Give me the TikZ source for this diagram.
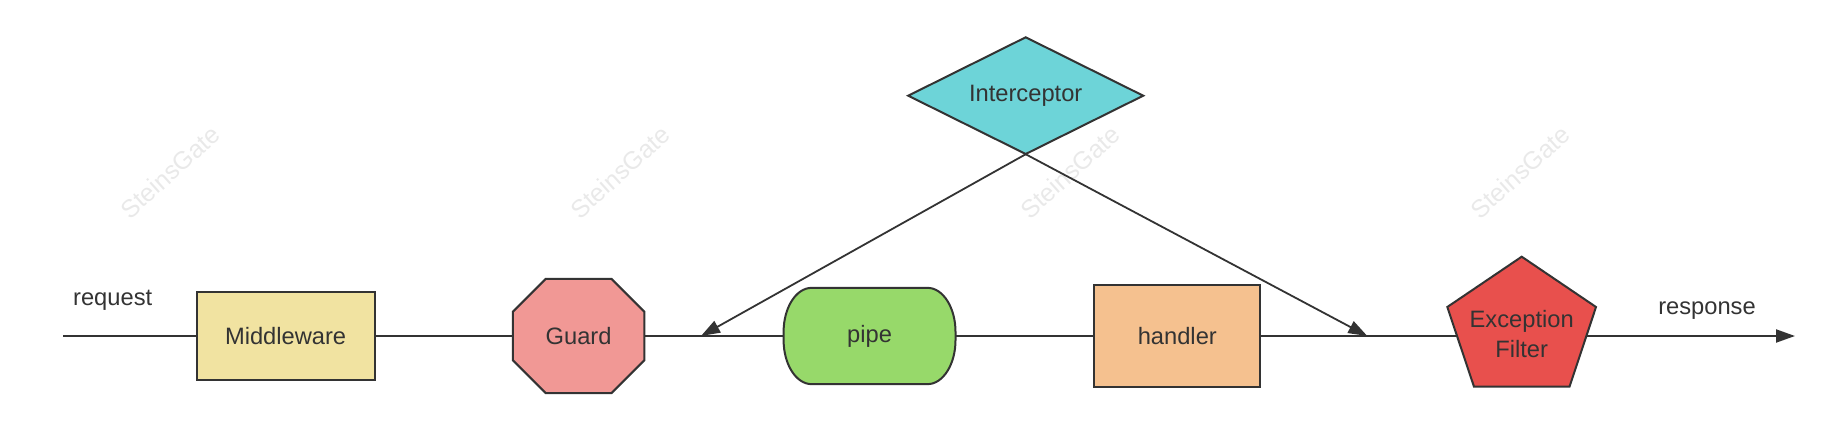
\documentclass[tikz,border=0pt]{standalone}
\usepackage{fontspec}
\setmainfont{Liberation Sans}
\usetikzlibrary{arrows.meta}
\definecolor{ink}{HTML}{333333}
\definecolor{mwc}{HTML}{F1E3A1}
\definecolor{guardc}{HTML}{F19895}
\definecolor{pipec}{HTML}{97D96A}
\definecolor{handc}{HTML}{F5C18F}
\definecolor{excc}{HTML}{E8504D}
\definecolor{interc}{HTML}{6DD4D8}
\definecolor{wmc}{HTML}{E9E9E9}
\begin{document}
\begin{tikzpicture}[x=1pt,y=-1pt,
  txt/.style={font=\fontsize{23.7}{30}\selectfont, text=ink, inner sep=0pt},
  shp/.style={draw=ink, line width=2pt, line join=miter},
  flow/.style={draw=ink, line width=2pt},
  conn/.style={draw=ink, line width=1.8pt, -{Triangle[length=19pt,width=13pt]}},
  wm/.style={font=\fontsize{25}{30}\selectfont, text=wmc, rotate=42, inner sep=0pt}
]
\useasboundingbox (0,0) rectangle (1827,430);
% watermarks
\node[wm] (wm1) at (170,172) {SteinsGate};
\node[wm] (wm2) at (620,172) {SteinsGate};
\node[wm] (wm3) at (1070,172) {SteinsGate};
\node[wm] (wm4) at (1520,172) {SteinsGate};
% custom shape outlines
\path[shp, fill=guardc] (545.8,278.8) -- (611.4,278.8) -- (644.4,311.8) -- (644.4,360.2)
  -- (611.4,393.2) -- (545.8,393.2) -- (512.8,360.2) -- (512.8,311.8) -- cycle;
\path[shp, fill=pipec] (811.6,287.85) -- (927.5,287.85)
  arc[start angle=90,end angle=0,x radius=28pt,y radius=44pt] -- (955.5,340.15)
  arc[start angle=0,end angle=-90,x radius=28pt,y radius=44pt] -- (811.6,384.15)
  arc[start angle=270,end angle=180,x radius=28pt,y radius=44pt] -- (783.6,331.85)
  arc[start angle=180,end angle=90,x radius=28pt,y radius=44pt] -- cycle;
\path[shp, fill=excc] (1521.7,256.7) -- (1596,307) -- (1569.5,386.7) -- (1474,386.7)
  -- (1447.3,307) -- cycle;
\path[shp, fill=interc] (1025.7,37.3) -- (1143.2,95.7) -- (1025.7,154) -- (908.2,95.7) -- cycle;
% nodes
\node[txt, draw=ink, line width=2pt, fill=mwc, minimum width=178pt, minimum height=88.3pt] (mw) at (285.6,336) {Middleware};
\node[txt, minimum width=131.6pt, minimum height=114.4pt] (guard) at (578.6,336) {Guard};
\node[txt, minimum width=171.9pt, minimum height=96.3pt] (pipe) at (869.6,336) {pipe};
\node[txt, draw=ink, line width=2pt, fill=handc, minimum width=165.7pt, minimum height=102.4pt] (handler) at (1177.3,336) {handler};
\node[txt, align=center, minimum width=129.5pt, minimum height=130pt] (exc) at (1521.7,334) {Exception\\Filter};
\node[txt, minimum width=235pt, minimum height=116.7pt] (inter) at (1025.7,95.7) {Interceptor};
\node[txt] (req) at (112.7,300.7) {request};
\node[txt] (resp) at (1707,310.7) {response};
% free ends
\coordinate (in) at (63,336);
\coordinate (out) at (1795,336);
\coordinate (hitl) at (701,336);
\coordinate (hitr) at (1367.3,336);
\coordinate (excw) at (1457,336);
\coordinate (exce) at (1586.5,336);
% connectors
\draw[flow] (in) -- (mw.west);
\draw[flow] (mw.east) -- (guard.west);
\draw[flow] (guard.east) -- (pipe.west);
\draw[flow] (pipe.east) -- (handler.west);
\draw[flow] (handler.east) -- (excw);
\draw[flow, -{Triangle[length=19pt,width=13pt]}] (exce) -- (out);
\draw[conn] (inter.south) -- (hitl);
\draw[conn] (inter.south) -- (hitr);
\end{tikzpicture}
\end{document}
